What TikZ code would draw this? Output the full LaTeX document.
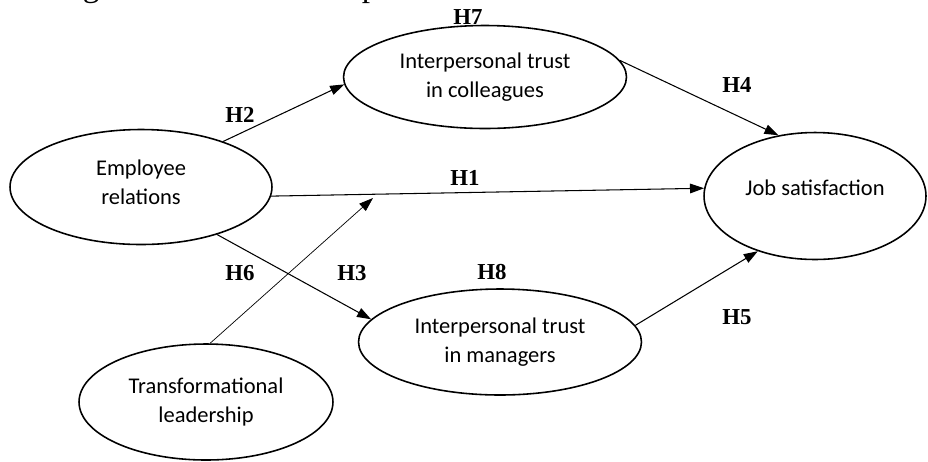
\documentclass[tikz,border=0pt]{standalone}
\usepackage{fontspec}
\setmainfont{Liberation Serif}
\newfontfamily\carlito{Carlito}
\usetikzlibrary{shapes.geometric,arrows.meta,positioning,calc}

\begin{document}
\begin{tikzpicture}[x=0.02cm, y=-0.02cm,
  construct/.style={draw, ellipse, line width=0.9pt, inner sep=0pt, align=center,
    font=\carlito\fontsize{12.8}{16.5}\selectfont},
  hyp/.style={font=\bfseries\fontsize{13}{15}\selectfont, inner sep=0pt},
  link/.style={-{Triangle[length=8pt,width=5.5pt]}, line width=0.6pt}]
\useasboundingbox (0,0) rectangle (928,461);

% Line of running text cut at the top
\node[anchor=base west, inner sep=0pt, font=\fontsize{19}{22}\selectfont] (txt) at (-1,-4) {tanding of these relationships.};

% Constructs
\node[construct, minimum width=5.24cm, minimum height=2.3cm, text depth=6pt] (ER) at (141,187) {Employee\\relations};
\node[construct, minimum width=5.66cm, minimum height=2.06cm] (TC) at (485,77) {Interpersonal trust\\in colleagues};
\node[construct, minimum width=5.66cm, minimum height=2.12cm] (TM) at (500,342) {Interpersonal trust\\in managers};
\node[construct, minimum width=4.44cm, minimum height=2.54cm, text depth=9pt] (JS) at (815,196) {Job satisfaction};
\node[construct, minimum width=5.08cm, minimum height=2.32cm] (TL) at (206,402) {Transformational\\leadership};

% Paths
\draw[link] (ER.29) -- (TC.183);
\draw[link] (TC.7) -- (JS.121);
\draw[link] (ER.-4) -- (JS.176);
\draw[link] (ER.-32) -- (TM.170);
\draw[link] (TM.7) -- (JS.224);

% Moderation onto H1
\coordinate (mod) at (373,198);
\draw[link, line width=0.4pt] (TL.86) -- (mod);

% Hypotheses
\node[hyp] (h7) at (468,17) {H7};
\node[hyp] (h2) at (240,115) {H2};
\node[hyp] (h4) at (737,85) {H4};
\node[hyp] (h1) at (465,178) {H1};
\node[hyp] (h6) at (240,273) {H6};
\node[hyp] (h3) at (352,273) {H3};
\node[hyp] (h8) at (492,272) {H8};
\node[hyp] (h5) at (737,317) {H5};
\end{tikzpicture}
\end{document}
